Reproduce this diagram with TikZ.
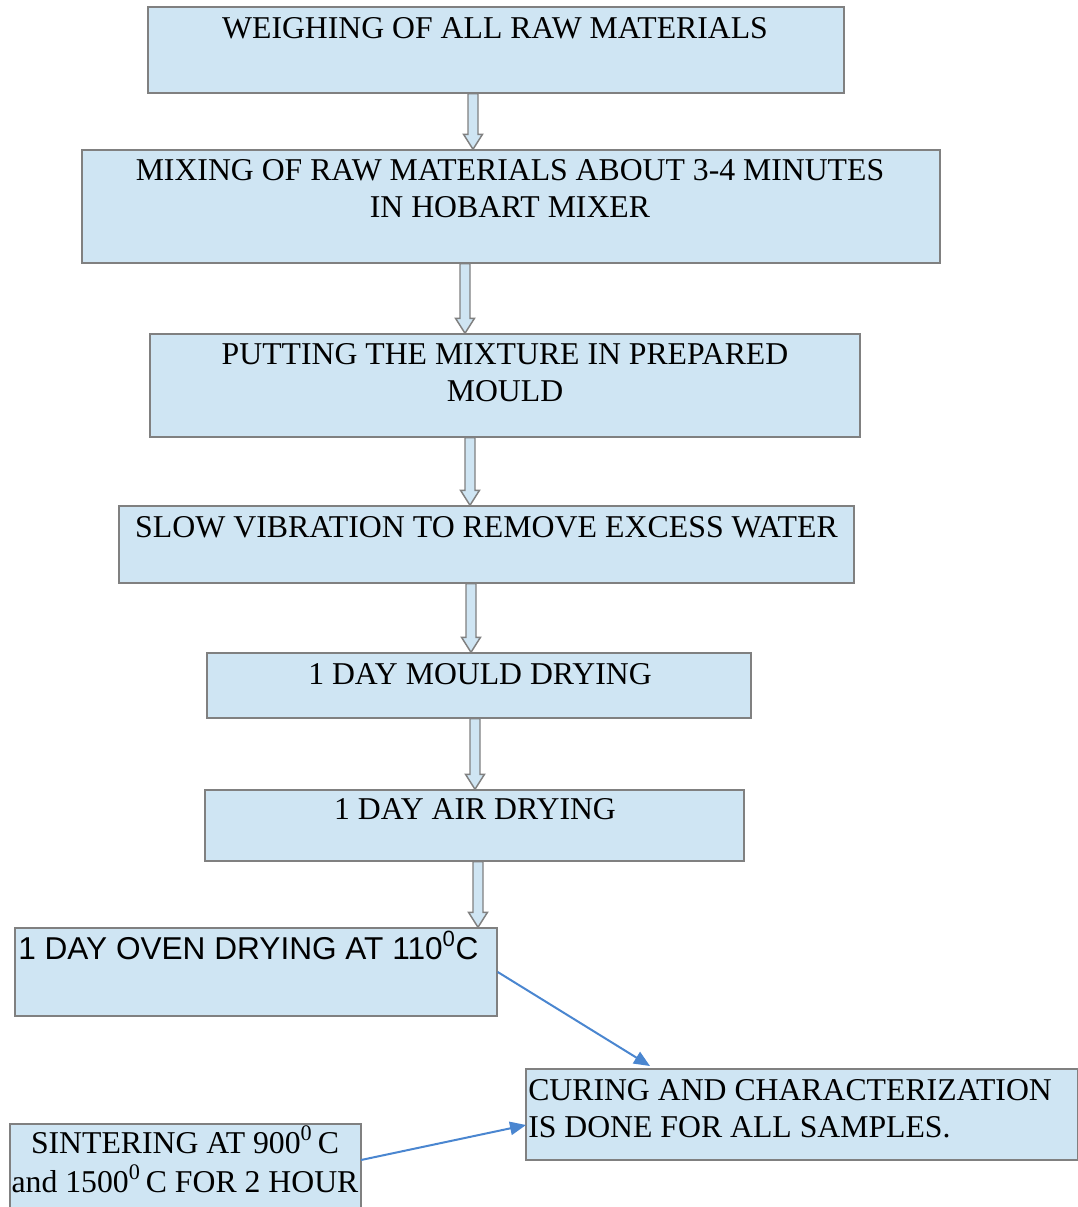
\documentclass[tikz,border=0pt]{standalone}
\usepackage{fontspec}
\setmainfont{Liberation Serif}
\newfontfamily\sansf{Liberation Sans}
\usetikzlibrary{calc,arrows.meta,fit}
\definecolor{boxfill}{HTML}{CFE5F3}
\definecolor{boxline}{HTML}{808080}
\definecolor{arrblue}{HTML}{4A86D0}
\tikzset{
  box/.style={draw=boxline, fill=boxfill, line width=1.1pt, inner sep=0pt},
  txt/.style={inner sep=0pt, anchor=base, font=\fontsize{23.8}{27.75}\selectfont},
  blk/.style={draw=boxline, fill=boxfill, line width=1.1pt, line join=miter},
  bluearr/.style={draw=arrblue, line width=1.5pt, -{Triangle[length=12pt,width=10pt]}}
}
\newcommand\blkarrow[3]{%
  \coordinate (bs) at (#1.south -| #3,0);
  \coordinate (be) at (#2.north -| #3,0);
  \filldraw[blk] ($(bs)+(-5,0)$) -- ($(be)+(-5,-15)$) -- ($(be)+(-9.5,-15)$) -- (be)
    -- ($(be)+(9.5,-15)$) -- ($(be)+(5,-15)$) -- ($(bs)+(5,0)$) -- cycle;}
\begin{document}
\begin{tikzpicture}[x=0.75pt,y=-0.75pt]
\useasboundingbox (0,0) rectangle (1078,1207);
% boxes
\node[box, fit={(148,7) (844,93)}] (weigh) {};
\node[box, fit={(82,150) (940,263)}] (mix) {};
\node[box, fit={(150,334) (860,437)}] (mould) {};
\node[box, fit={(119,506) (854,583)}] (vib) {};
\node[box, fit={(207,653) (751,718)}] (mdry) {};
\node[box, fit={(205,790) (744,861)}] (adry) {};
\node[box, fit={(15,928) (497,1016)}] (oven) {};
\node[box, fit={(526,1069) (1078,1160)}] (cure) {};
\node[box, fit={(10,1124) (361,1209)}] (sint) {};
% texts
\node[txt] (t1) at (495,38) {WEIGHING OF ALL RAW MATERIALS};
\node[txt] (t2a) at (510,180) {MIXING OF RAW MATERIALS ABOUT 3-4 MINUTES};
\node[txt] (t2b) at (510,217) {IN HOBART MIXER};
\node[txt] (t3a) at (505,364) {PUTTING THE MIXTURE IN PREPARED};
\node[txt] (t3b) at (505,401) {MOULD};
\node[txt] (t4) at (486.5,537) {\resizebox{527pt}{\height}{SLOW VIBRATION TO REMOVE EXCESS WATER}};
\node[txt] (t5) at (480,684) {1 DAY MOULD DRYING};
\node[txt] (t6) at (475,819) {1 DAY AIR DRYING};
\node[txt, anchor=base west, font=\sansf\fontsize{23.7}{28}\selectfont] (t7) at (18,959) {1 DAY OVEN DRYING AT 110\textsuperscript{0}C};
\node[txt, anchor=base west] (t8a) at (528,1100) {CURING AND CHARACTERIZATION};
\node[txt, anchor=base west] (t8b) at (528,1137) {IS DONE FOR ALL SAMPLES.};
\node[txt] (t9a) at (185,1153) {SINTERING AT 900\textsuperscript{0}\,C};
\node[txt] (t9b) at (185,1192) {and 1500\textsuperscript{0}\,C FOR 2 HOUR};
% block arrows
\blkarrow{weigh}{mix}{473}
\blkarrow{mix}{mould}{465}
\blkarrow{mould}{vib}{470}
\blkarrow{vib}{mdry}{471}
\blkarrow{mdry}{adry}{475}
\blkarrow{adry}{oven}{478}
% blue arrows
\coordinate (c1) at (650,1066);
\coordinate (c2) at (526,1125);
\coordinate (s1) at (361,1160);
\draw[bluearr] (oven.east) -- (c1);
\draw[bluearr] (s1) -- (c2);
\end{tikzpicture}
\end{document}
